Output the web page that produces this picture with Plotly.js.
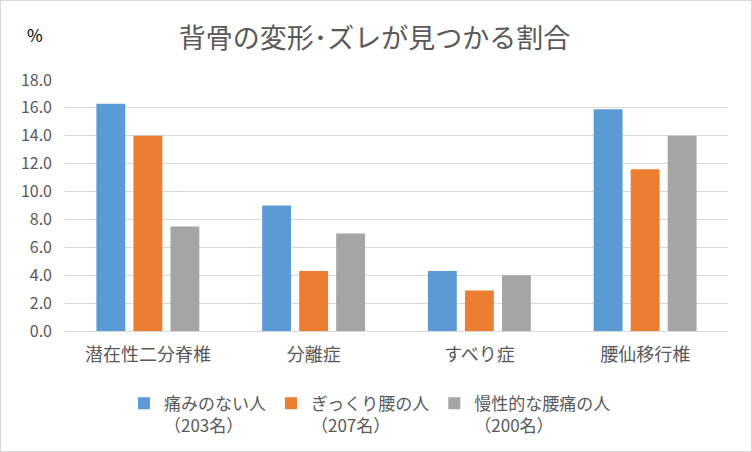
<!DOCTYPE html>
<html>
<head>
<meta charset="utf-8">
<script src="https://cdn.plot.ly/plotly-3.0.1.min.js"></script>
<style>
  body { margin: 0; background: #fff; }
  #chart { width: 750px; height: 450px; border: 1px solid #d9d9d9; }
</style>
</head>
<body>
<div id="chart"></div>
<script>
// categories and values (percent)
const categories = ['潜在性二分脊椎', '分離症', 'すべり症', '腰仙移行椎'];
const noPain = [16.3, 9.0, 4.3, 15.9];
const acutePain = [14.0, 4.3, 2.9, 11.6];
const chronicPain = [7.5, 7.0, 4.0, 14.0];
const seriesNames = ['痛みのない人<br>（203名）', 'ぎっくり腰の人<br>（207名）', '慢性的な腰痛の人<br>（200名）'];
const colors = ['#5b9bd5', '#ed7d31', '#a5a5a5'];

const font = '"Noto Sans CJK JP", "Noto Sans", sans-serif';

const data = [noPain, acutePain, chronicPain].map((vals, i) => ({
	x: categories,
	y: vals,
	type: 'bar',
	name: seriesNames[i],
	marker: { color: colors[i] }
}));

const layout = {
	width: 750,
	height: 450,
	margin: { l: 64, r: 23, t: 79, b: 120 },
	paper_bgcolor: '#fff',
	plot_bgcolor: '#fff',
	font: { family: font, color: '#595959', size: 16 },
	title: {
		text: '背骨の変形･ズレが見つかる割合',
		font: { size: 27, color: '#595959', family: font },
		x: 0.498, xref: 'container', xanchor: 'center',
		y: 0.916, yref: 'container', yanchor: 'middle'
	},
	barmode: 'group',
	bargap: 0.33,
	bargroupgap: 0.22,
	xaxis: {
		tickfont: { size: 18, color: '#595959' },
		showgrid: false,
		showline: false,
		ticklabelstandoff: 11
	},
	yaxis: {
		range: [0, 18],
		dtick: 2,
		tickformat: '.1f',
		gridcolor: '#d9d9d9',
		zerolinecolor: '#d9d9d9',
		tickfont: { size: 16, color: '#595959' },
		ticklabelstandoff: 12
	},
	legend: {
		orientation: 'h',
		x: 0.46, xanchor: 'center',
		yref: 'container',
		y: 0.145, yanchor: 'top',
		valign: 'top',
		font: { size: 17, color: '#595959' },
		itemwidth: 30,
		traceorder: 'normal'
	},
	annotations: [{
		text: '%',
		xref: 'paper', yref: 'paper',
		x: -0.045, xanchor: 'center',
		y: 1.18, yanchor: 'middle',
		showarrow: false,
		font: { size: 17, color: '#000' }
	}],
	showlegend: true
};

Plotly.newPlot('chart', data, layout, { displayModeBar: false, staticPlot: true });
</script>
</body>
</html>
